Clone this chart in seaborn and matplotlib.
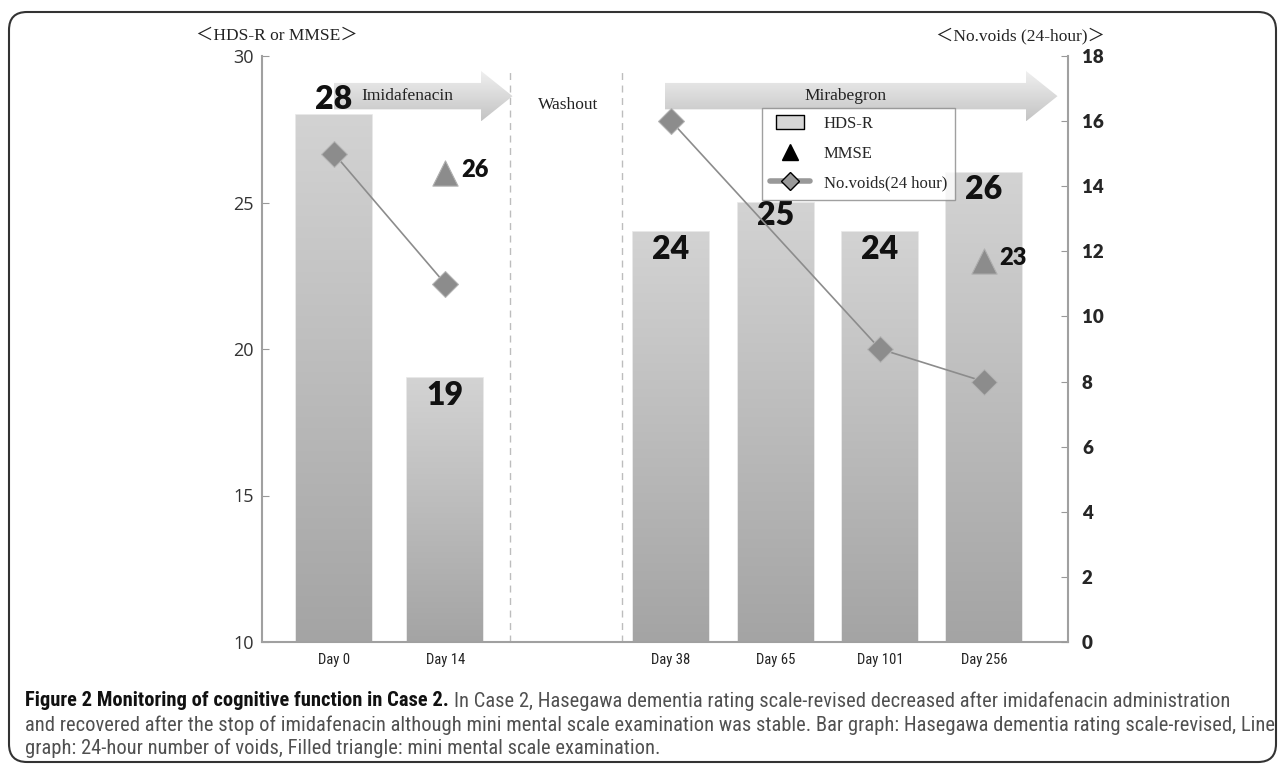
import numpy as np
import pandas as pd
import matplotlib
matplotlib.use("Agg")
import matplotlib.pyplot as plt
import seaborn as sns
from matplotlib.patches import FancyArrow, FancyBboxPatch
from matplotlib.lines import Line2D
from matplotlib.path import Path
from matplotlib.transforms import IdentityTransform

# data
days = ["Day 0", "Day 14", "Day 38", "Day 65", "Day 101", "Day 256"]
hdsr = [28, 19, 24, 25, 24, 26]
mmse = [np.nan, 26, np.nan, np.nan, np.nan, 23]
voids = [15, 11, 16, np.nan, 9, 8]
phase = ["Imidafenacin", "Imidafenacin", "Mirabegron", "Mirabegron", "Mirabegron", "Mirabegron"]

# layout: slot of each day on the x axis (washout gap between Day 14 and Day 38)
slots = [0, 1.06, 3.21, 4.21, 5.2, 6.19]
label_dy = [0.5, -0.57, -0.62, -0.45, -0.62, -0.57]

df = pd.DataFrame({"day": days, "pos": slots, "hdsr": hdsr, "mmse": mmse,
                   "voids": voids, "phase": phase})

sns.set_style("white")
serif = ["Liberation Serif", "DejaVu Serif", "Noto Sans CJK JP"]
narrow = ["Liberation Sans Narrow", "Roboto Condensed", "Liberation Sans", "DejaVu Sans"]
heavy = ["Lato", "DejaVu Sans"]
plt.rcParams["font.family"] = ["Open Sans", "DejaVu Sans"]

W, H = 1282, 764
fig = plt.figure(figsize=(W / 100, H / 100), dpi=100)
ax = fig.add_axes([262 / W, 1 - 642 / H, (1068 - 262) / W, (642 - 56) / H])

# bars
sns.barplot(data=df, x="pos", y="hdsr", native_scale=True, width=0.73,
            color="#bdbdbd", errorbar=None, ax=ax, zorder=2)
ax.set_ylim(10, 30)
ax.set_xlim(-0.686, 6.99)

grad = np.linspace(0, 1, 256).reshape(-1, 1)
cmap = matplotlib.colors.LinearSegmentedColormap.from_list("g", ["#a4a4a4", "#d3d3d3"])
for p, v in zip(ax.patches, hdsr):
    x0 = p.get_x()
    w = p.get_width()
    p.set_edgecolor("#e4e4e4")
    p.set_linewidth(1.2)
    im = ax.imshow(grad, extent=(x0, x0 + w, 10, v), origin="lower", cmap=cmap,
                   aspect="auto", zorder=2.1)
    im.set_clip_path(p)

for x, v, dy in zip(slots, hdsr, label_dy):
    ax.text(x, v + dy, str(v), ha="center", va="center", fontsize=23,
            fontweight="heavy", color="#111111", zorder=5, family=heavy)

# MMSE triangles
sns.scatterplot(data=df, x="pos", y="mmse", marker="^", s=330, color="#8c8c8c",
                edgecolor="#b0b0b0", linewidth=0.8, ax=ax, zorder=6, legend=False)
for x, v in zip(slots, mmse):
    if not np.isnan(v):
        ax.text(x + 0.15, v + 0.1, str(int(v)), ha="left", va="center", fontsize=17,
                fontweight="heavy", color="#111111", zorder=6, family=heavy)

# washout separators
for xv in [1.676, 2.743]:
    ax.plot([xv, xv], [10, 29.45], ls=(0, (5, 4)), color="#bdbdbd", lw=1, zorder=1)

# treatment arrows
agrad = np.linspace(0, 1, 64).reshape(-1, 1)
acmap = matplotlib.colors.LinearSegmentedColormap.from_list("a", ["#c4c4c4", "#f0f0f0"])
for x0, x1, name in [(0.0, 1.70, "Imidafenacin"), (3.15, 6.89, "Mirabegron")]:
    yc = 28.63
    arr = FancyArrow(x0, yc, x1 - x0, 0, width=0.9, head_width=1.72, head_length=0.3,
                     length_includes_head=True, facecolor="none", edgecolor="none",
                     zorder=3)
    ax.add_patch(arr)
    im = ax.imshow(agrad, extent=(x0, x1, yc - 0.86, yc + 0.86), origin="lower",
                   cmap=acmap, aspect="auto", zorder=3)
    im.set_clip_path(arr)
    ax.text((x0 + x1 - 0.3) / 2, yc, name, ha="center", va="center", fontsize=12.5,
            family=serif, color="#222222", zorder=4)
ax.text(2.23, 28.33, "Washout", ha="center", va="center", fontsize=12.5,
        family=serif, color="#222222")

# axis styling
ax.set_yticks([10, 15, 20, 25, 30])
ax.set_xticks(slots)
ax.set_xticklabels(days, family=narrow, fontsize=10.5, color="#222222")
ax.set_xlabel("")
ax.set_ylabel("")
ax.tick_params(axis="y", direction="in", length=5, color="#999999", labelsize=13,
               labelcolor="#333333", pad=6)
ax.tick_params(axis="x", length=0, pad=8)
for s in ["top", "right"]:
    ax.spines[s].set_visible(False)
for s in ["left", "bottom"]:
    ax.spines[s].set_color("#a0a0a0")
    ax.spines[s].set_linewidth(1.5)

# voids line on the right axis
ax2 = ax.twinx()
sns.lineplot(data=df.dropna(subset=["voids"]), x="pos", y="voids", units="phase",
             estimator=None, color="#8c8c8c", lw=1.2, marker="D", markersize=13,
             markerfacecolor="#8c8c8c", markeredgecolor="#b5b5b5", ax=ax2, legend=False,
             zorder=7)
ax2.set_ylim(0, 18)
ax2.set_xlim(-0.686, 6.99)
ax2.set_yticks(range(0, 19, 2))
ax2.set_ylabel("")
ax2.tick_params(axis="y", direction="in", length=5, color="#999999", labelsize=13.5,
                pad=10)
for lab in ax2.get_yticklabels():
    lab.set_fontweight("heavy")
    lab.set_family(heavy)
for s in ["top", "left", "bottom"]:
    ax2.spines[s].set_visible(False)
ax2.spines["right"].set_color("#a0a0a0")
ax2.spines["right"].set_linewidth(1.5)

# legend with a small flat box for the bars
box = Path([(-1, -0.5), (1, -0.5), (1, 0.5), (-1, 0.5), (-1, -0.5)],
           [Path.MOVETO, Path.LINETO, Path.LINETO, Path.LINETO, Path.CLOSEPOLY])
handles = [
    Line2D([], [], marker=box, linestyle="none", markersize=20,
           markerfacecolor="#d6d6d6", markeredgecolor="black", markeredgewidth=1),
    Line2D([], [], marker="^", color="black", linestyle="none", markersize=11),
    Line2D([], [], color="#999999", lw=4, marker="D", markerfacecolor="#9a9a9a",
           markeredgecolor="black", markersize=9),
]
leg = ax2.legend(handles, ["HDS-R", "MMSE", "No.voids(24 hour)"], loc="upper left",
                 bbox_to_anchor=(762 / W, 1 - 108 / H), bbox_transform=fig.transFigure,
                 prop={"family": serif, "size": 12}, fancybox=False,
                 edgecolor="#888888", handlelength=2.4, labelspacing=0.8,
                 borderpad=0.5, handleheight=0.8, borderaxespad=0)
leg.get_frame().set_linewidth(1)

# axis headers
fig.text(277 / W, 1 - 36 / H, "＜HDS-R or MMSE＞", ha="center", va="center",
         fontsize=12.5, family=serif, color="#222222")
fig.text(1020 / W, 1 - 36 / H, "＜No.voids (24-hour)＞", ha="center", va="center",
         fontsize=12.5, family=serif, color="#222222")

# caption, sized so the long second line fills the frame width
cap1b = "Figure 2 Monitoring of cognitive function in Case 2."
cap1 = "In Case 2, Hasegawa dementia rating scale-revised decreased after imidafenacin administration"
cap2 = ("and recovered after the stop of imidafenacin although mini mental scale examination was stable. "
        "Bar graph: Hasegawa dementia rating scale-revised, Line")
cap3 = "graph: 24-hour number of voids, Filled triangle: mini mental scale examination."

fig.canvas.draw()
r = fig.canvas.get_renderer()
cap_x = 25 / W
t2 = fig.text(cap_x, 1 - 725 / H, cap2, ha="left", va="center", fontsize=13,
              family=narrow, color="#505050")
w2 = t2.get_window_extent(renderer=r).width
fs = 13 * 1243 / w2
t2.set_fontsize(fs)
fig.text(cap_x, 1 - 748 / H, cap3, ha="left", va="center", fontsize=fs,
         family=narrow, color="#505050")
bold = fig.text(cap_x, 1 - 701 / H, cap1b, ha="left", va="center", fontsize=fs,
                fontweight="bold", family=narrow, color="#111111")
bb = bold.get_window_extent(renderer=r)
fig.text((bb.x1 + 5) / W, 1 - 701 / H, cap1, ha="left", va="center", fontsize=fs,
         family=narrow, color="#505050")

# rounded frame
frame = FancyBboxPatch((9, 2), 1267, 750, boxstyle="round,pad=0,rounding_size=18",
                       transform=IdentityTransform(), facecolor="none",
                       edgecolor="#333333", linewidth=1.5)
fig.patches.append(frame)

fig.savefig("out.png", dpi=100)
